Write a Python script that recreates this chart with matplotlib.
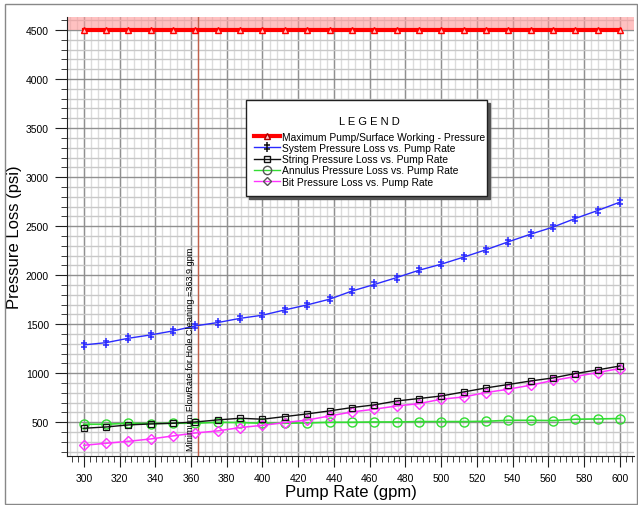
import numpy as np
import matplotlib
matplotlib.use('Agg')
import matplotlib.pyplot as plt
from matplotlib.path import Path
from matplotlib.lines import Line2D
from matplotlib.patches import Rectangle
from matplotlib.ticker import MultipleLocator

plt.rcParams['font.family'] = ['Liberation Sans', 'DejaVu Sans']

# pump rate (gpm) for each computed point
pump_rate = [300, 312.5, 325, 337.5, 350, 362.5, 375, 387.5, 400, 412.5, 425, 437.5,
             450, 462.5, 475, 487.5, 500, 512.5, 525, 537.5, 550, 562.5, 575, 587.5, 600]

# pressures (psi)
max_pressure = [4500] * 25
system_loss = [1289, 1312, 1357, 1391, 1432, 1483, 1517, 1560, 1592, 1646, 1697, 1755,
               1838, 1905, 1975, 2050, 2112, 2184, 2259, 2340, 2418, 2490, 2578, 2659, 2745]
string_loss = [439, 452, 473, 483, 490, 503, 524, 541, 531, 558, 585, 616,
               650, 677, 717, 742, 768, 809, 850, 885, 921, 952, 997, 1034, 1074]
annulus_loss = [480, 480, 490, 487, 490, 490, 500, 497, 490, 490, 493, 500,
                500, 503, 503, 507, 507, 507, 510, 520, 520, 517, 531, 534, 538]
bit_loss = [265, 286, 306, 330, 361, 391, 412, 446, 469, 497, 523, 564,
            605, 633, 666, 690, 735, 758, 803, 837, 878, 926, 966, 1007, 1048]

min_flow = 363.9

labels = ['Maximum Pump/Surface Working - Pressure',
          'System Pressure Loss vs. Pump Rate',
          'String Pressure Loss vs. Pump Rate',
          'Annulus Pressure Loss vs. Pump Rate',
          'Bit Pressure Loss vs. Pump Rate']

# double-dagger style marker for the system curve
dagger = Path([(0, -1), (0, 1), (-0.7, 0.4), (0.7, 0.4), (-0.7, -0.4), (0.7, -0.4)],
              [Path.MOVETO, Path.LINETO, Path.MOVETO, Path.LINETO, Path.MOVETO, Path.LINETO])

W, H = 638, 506
fig = plt.figure(figsize=(W / 100, H / 100), dpi=100)
ax = fig.add_axes([67 / W, 1 - 457 / H, (634 - 67) / W, (457 - 18) / H])

ax.set_xlim(290.6, 607.9)
ax.set_ylim(156, 4633)

# grid: light every 4 gpm / 100 psi, darker on the major ticks
for gx in np.arange(292, 608, 4):
    ax.axvline(gx, color='#dcdcdc', lw=1, zorder=0)
ax.xaxis.set_major_locator(MultipleLocator(20))
ax.xaxis.set_minor_locator(MultipleLocator(20 / 6))
ax.yaxis.set_major_locator(MultipleLocator(500))
ax.yaxis.set_minor_locator(MultipleLocator(100))
ax.grid(which='major', color='#909090', lw=1, zorder=0.5)
ax.grid(which='minor', axis='y', color='#c8c8c8', lw=1, zorder=0.4)
ax.set_axisbelow(True)

# red band above the maximum working pressure
ax.axhspan(4500, 4633, color='#ff9999', alpha=0.6, lw=0, zorder=1)

ax.plot(pump_rate, max_pressure, color='#ff0000', lw=3, marker='^', ms=5,
        mfc='#ffc8c8', mec='#ff0000', mew=1, zorder=5)
ax.plot(pump_rate, system_loss, color='#2a2aff', lw=1, marker=dagger, ms=6.5,
        mec='#2a2aff', mew=1.1, zorder=4)
ax.plot(pump_rate, string_loss, color='#101010', lw=1, marker='s', ms=5,
        mfc='none', mec='#101010', mew=0.9, zorder=4)
ax.plot(pump_rate, annulus_loss, color='#33dd33', lw=1.2, marker='o', ms=6.5,
        mfc='none', mec='#33dd33', mew=1, zorder=3)
ax.plot(pump_rate, bit_loss, color='#ff33ff', lw=1.1, marker='D', ms=5,
        mfc='none', mec='#ff33ff', mew=1, zorder=3)

ax.axvline(min_flow, color='#c0604a', lw=1, zorder=2)
ax.text(min_flow - 1.5, 214, 'Minimum FlowRate for Hole Cleaning =363.9 gpm',
        rotation=90, ha='right', va='bottom', fontsize=6.6, zorder=6)

for side in ['top', 'right']:
    ax.spines[side].set_visible(False)
ax.spines['left'].set_color('#202020')
ax.spines['bottom'].set_color('#202020')
ax.tick_params(axis='both', which='both', direction='out', colors='#202020',
               labelsize=7.5, labelcolor='black')
ax.tick_params(axis='x', which='major', length=8, pad=4)
ax.tick_params(axis='x', which='minor', length=4)
ax.tick_params(axis='y', which='major', length=9, pad=4)
ax.tick_params(axis='y', which='minor', length=4)

ax.set_xlabel('Pump Rate (gpm)', fontsize=12, labelpad=1)
ax.set_ylabel('Pressure Loss (psi)', fontsize=12, labelpad=3)

# legend box with drop shadow
def fbox(x0, y0, x1, y1):
    return (x0 / W, 1 - y1 / H), (x1 - x0) / W, (y1 - y0) / H
xy, w, h = fbox(249, 104, 490, 200)
fig.patches.append(Rectangle(xy, w, h, transform=fig.transFigure, color='#555555', zorder=9))
xy, w, h = fbox(246, 101, 487, 197)
fig.patches.append(Rectangle(xy, w, h, transform=fig.transFigure, facecolor='white',
                             edgecolor='#202020', lw=1, zorder=10))

handles = [
    Line2D([], [], color='#ff0000', lw=3, marker='^', ms=5, mfc='#ffc8c8', mec='#aa0000'),
    Line2D([], [], color='#2a2aff', lw=1, marker=dagger, ms=6.5, mec='#101010', mew=1.1),
    Line2D([], [], color='#101010', lw=1, marker='s', ms=4.5, mfc='none', mec='#101010'),
    Line2D([], [], color='#33dd33', lw=1, marker='o', ms=6, mfc='none', mec='#555555'),
    Line2D([], [], color='#ff33ff', lw=1, marker='D', ms=4.5, mfc='none', mec='#555555'),
]
leg = fig.legend(handles, labels, loc='upper left', bbox_to_anchor=(247 / W, 1 - 110 / H),
                 frameon=False, fontsize=7.4, title='L E G E N D', title_fontsize=8,
                 handlelength=2.5, handletextpad=0.2, labelspacing=0.12, borderpad=0.2)
leg.set_zorder(11)
leg._legend_box.align = 'center'
leg._legend_box.sep = 4

# outer border of the chart image
fig.patches.append(Rectangle((5 / W, 1 / H), 632 / W, 500 / H, transform=fig.transFigure,
                             facecolor='none', edgecolor='#888888', lw=1, zorder=0))

fig.savefig('out.png', dpi=100)
